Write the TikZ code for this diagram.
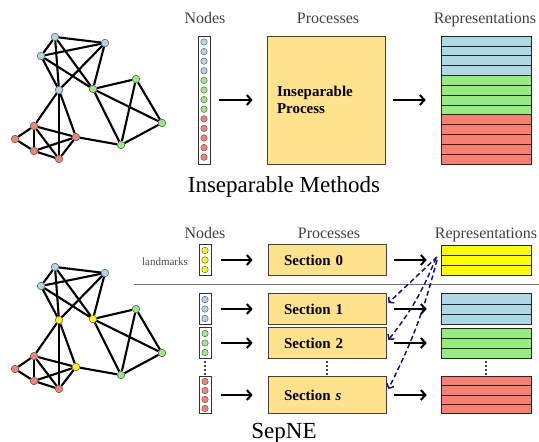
\documentclass[tikz,border=0pt]{standalone}
\usepackage{fontspec}
\setmainfont{Liberation Serif}
\usetikzlibrary{arrows.meta,positioning,backgrounds}
\definecolor{nblue}{RGB}{173,216,230}
\definecolor{ngreen}{RGB}{150,236,128}
\definecolor{nred}{RGB}{250,128,114}
\definecolor{nyellow}{RGB}{255,255,0}
\definecolor{procfill}{RGB}{255,226,140}
\definecolor{dashblue}{RGB}{20,20,120}

\begin{document}
\begin{tikzpicture}[x=1pt, y=-1pt,
    gnode/.style={circle, draw=black!70, line width=0.5pt, minimum size=7.5pt, inner sep=0pt},
    edge/.style={line width=2.1pt},
    cnode/.style={circle, draw=black!70, line width=0.4pt, minimum size=6.5pt, inner sep=0pt},
    colbox/.style={draw=black!80, line width=0.7pt, minimum width=12pt, inner sep=0pt},
    procbox/.style={draw=black!75, fill=procfill, line width=0.7pt, minimum width=118pt,
                    font=\fontsize{15}{17.5}\selectfont\bfseries, align=left},
    secbox/.style={procbox, text width=86pt, inner xsep=16pt, inner ysep=0pt},
    repbox/.style={draw=black!85, line width=0.6pt, minimum width=90pt, inner sep=0pt},
    rowbox/.style={draw=black!85, line width=0.6pt},
    head/.style={font=\fontsize{16}{18}\selectfont, text=black!75, anchor=base},
    title/.style={font=\fontsize{23}{26}\selectfont, anchor=base},
    arr/.style={line width=2pt, -{Straight Barb[length=4.5pt,width=10pt]}},
    darr/.style={dashblue, line width=1.5pt, dash pattern=on 5pt off 3pt,
                 -{Straight Barb[length=3.5pt,width=8pt]}}
]
\useasboundingbox (0,0) rectangle (539,442);

% the two copies of the network
\foreach \dy/\hA/\hB/\hC/\p in {0/nblue/ngreen/nred/t, 230/nyellow/nyellow/nyellow/s}{
  \node[gnode, fill=nblue] (\p b1) at (55,37+\dy) {};
  \node[gnode, fill=nblue] (\p b2) at (105,43+\dy) {};
  \node[gnode, fill=nblue] (\p b3) at (41,56+\dy) {};
  \node[gnode, fill=\hA] (\p h1) at (59,90+\dy) {};
  \node[gnode, fill=\hB] (\p h2) at (93,89+\dy) {};
  \node[gnode, fill=ngreen] (\p g2) at (136,79+\dy) {};
  \node[gnode, fill=ngreen] (\p g3) at (162,123+\dy) {};
  \node[gnode, fill=ngreen] (\p g4) at (121,145+\dy) {};
  \node[gnode, fill=nred] (\p r1) at (34,126+\dy) {};
  \node[gnode, fill=nred] (\p r2) at (15,139+\dy) {};
  \node[gnode, fill=nred] (\p r3) at (34,151+\dy) {};
  \node[gnode, fill=nred] (\p r4) at (59,159+\dy) {};
  \node[gnode, fill=\hC] (\p h3) at (76,137+\dy) {};
  \begin{scope}[on background layer]
    \foreach \a/\b in {b1/b2, b1/b3, b1/h1, b1/h2, b2/b3, b2/h1, b2/h2, b3/h1, b3/h2,
                       h1/r1, h1/r4, h1/h3, h2/g2, h2/g3, h2/g4, g2/g3, g2/g4, g3/g4,
                       h3/g4, r1/r2, r1/r3, r1/r4, r1/h3, r2/r3, r3/r4, r3/h3, r4/h3}
      \draw[edge] (\p\a) -- (\p\b);
  \end{scope}
}

% Inseparable methods
\node[head] (nodesA) at (205,23) {Nodes};
\node[head] (procA) at (328,23) {Processes};
\node[head] (repsA) at (485,23) {Representations};

\node[colbox, minimum height=128pt] (colA) at (204,100) {};
\foreach \c [count=\i] in {nblue,nblue,nblue,nblue,ngreen,ngreen,ngreen,ngreen,nred,nred,nred,nred,nred}
  \node[cnode, fill=\c] at (204,32.4+9.6*\i) {};

\node[procbox, minimum height=128pt, text width=98pt, inner xsep=10pt] (proc) at (326,100)
    {Inseparable\\Process};

\node[repbox, minimum height=128pt] (repA) at (486,100) {};
\foreach \c [count=\i from 0] in {nblue,nblue,nblue,nblue,ngreen,ngreen,ngreen,ngreen,nred,nred,nred,nred,nred}
  \draw[rowbox, fill=\c] (441,36+9.846*\i) rectangle ++(90,9.846);

\draw[arr, shorten <=9pt, shorten >=14pt] (colA) -- (proc);
\draw[arr, shorten <=8pt, shorten >=15pt] (proc) -- (repA);

\node[title] (titleA) at (284,192) {Inseparable Methods};

% SepNE
\node[head] (nodesB) at (205,238) {Nodes};
\node[head] (procB) at (329,238) {Processes};
\node[head] (repsB) at (486,238) {Representations};
\node[font=\fontsize{11}{13}\selectfont, text=black!70, anchor=base] (lmk) at (165,265) {landmarks};

\draw[black!55, line width=1pt] (134,284) -- (539,284);

% node columns
\node[colbox, minimum height=31pt] (col0) at (205,260) {};
\foreach \i in {1,2,3} \node[cnode, fill=nyellow] at (205,250.5+9.5*\i-9.5) {};
\node[colbox, minimum height=31pt] (col1) at (205,309) {};
\foreach \i in {1,2,3} \node[cnode, fill=nblue] at (205,299.5+9.5*\i-9.5) {};
\node[colbox, minimum height=31pt] (col2) at (205,343) {};
\foreach \i in {1,2,3} \node[cnode, fill=ngreen] at (205,333.5+9.5*\i-9.5) {};
\node[colbox, minimum height=37pt] (cols) at (205,395) {};
\foreach \i in {1,...,4} \node[cnode, fill=nred] at (205,381.5+9*\i-9) {};

% sections
\node[secbox, minimum height=31pt] (sec0) at (327,260) {Section 0};
\node[secbox, minimum height=31pt] (sec1) at (327,309) {Section 1};
\node[secbox, minimum height=31pt] (sec2) at (327,343) {Section 2};
\node[secbox, minimum height=37pt] (secs) at (327,395) {Section \textit{s}};

% representations
\node[repbox, minimum height=30pt] (rep0) at (486,260) {};
\foreach \i in {0,1,2} \draw[rowbox, fill=nyellow] (441,245+10*\i) rectangle ++(90,10);
\node[repbox, minimum height=31pt] (rep1) at (486,309) {};
\foreach \i in {0,1,2} \draw[rowbox, fill=nblue] (441,293.5+10.33*\i) rectangle ++(90,10.33);
\node[repbox, minimum height=30pt] (rep2) at (486,343) {};
\foreach \i in {0,1,2} \draw[rowbox, fill=ngreen] (441,328+10*\i) rectangle ++(90,10);
\node[repbox, minimum height=37pt] (reps) at (486,395) {};
\foreach \i in {0,...,3} \draw[rowbox, fill=nred] (441,376.5+9.25*\i) rectangle ++(90,9.25);

% vertical dots
\foreach \x in {205,327,486}
  \foreach \y in {362,366,370,374}
    \fill (\x,\y) circle[radius=1.1pt];

\foreach \n in {0,1,2,s}{
  \draw[arr, shorten <=10pt, shorten >=15pt] (col\n) -- (sec\n);
  \draw[arr, shorten <=8pt, shorten >=14pt] (sec\n) -- (rep\n);
}

\coordinate (lm) at (436,258);
\draw[darr] ([xshift=1pt,yshift=1pt]lm) -- ([xshift=2pt,yshift=6pt]sec1.east);
\draw[darr] (lm) to[bend left=8] ([xshift=2pt,yshift=3pt]sec2.east);
\draw[darr] ([xshift=1pt,yshift=-2pt]lm) to[bend left=6] ([xshift=2pt,yshift=6pt]secs.east);

\node[title] (titleB) at (284,438) {SepNE};
\end{tikzpicture}
\end{document}
